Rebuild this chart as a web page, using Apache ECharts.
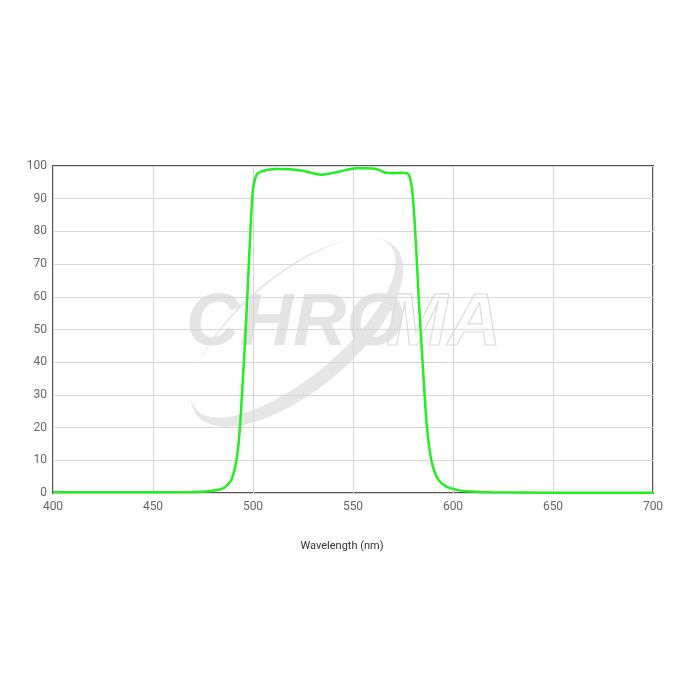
<!DOCTYPE html>
<html>
<head>
<meta charset="utf-8">
<script src="https://cdn.jsdelivr.net/npm/echarts@6/dist/echarts.min.js"></script>
<style>html,body{margin:0;padding:0;background:#fff}#c{width:700px;height:700px}</style>
</head>
<body>
<div id="c"></div>
<script>
// Data
var wavelengths = [400,450,470,478,482,485,487,489,490,491,492,493,494,495,496,497,498,499,499.5,500,501,502,504,507,512,518,524,530,534,539,544,548,552,556,560,563,566,570,575,577,578,579,580,581,582,583,584,585,586,587,588,589,590,591,592,593,595,597,599,603,607,620,650,700];
var transmission = [0.2,0.2,0.3,0.5,0.9,1.4,2.3,3.8,5.5,7.8,11,16.5,25,35.5,46,58,71,84,89,93,96,97.5,98.3,98.8,99.1,99,98.6,97.8,97.3,97.8,98.4,99,99.3,99.3,99.2,98.8,98,97.8,97.9,97.8,97.2,95,90,81,70,58,48,38,28,20,14.5,10.5,8,6.1,4.8,3.8,2.6,1.9,1.4,0.8,0.5,0.2,0.1,0.1];
var xTicks = [400,450,500,550,600,650,700];
var yTicks = [0,10,20,30,40,50,60,70,80,90,100];
var xAxisTitle = 'Wavelength (nm)';

var seriesData = wavelengths.map(function(w,i){return [w, transmission[i]];});

// watermark swoosh (decorative)
function ellipsePts(cx, cy, a, b, rotDeg, reverse) {
  var r = rotDeg*Math.PI/180, pts = [];
  for (var k = 0; k <= 120; k++) {
    var t = (reverse ? -1 : 1) * k/120*2*Math.PI;
    var x = a*Math.cos(t), y = b*Math.sin(t);
    pts.push([cx + x*Math.cos(r) - y*Math.sin(r), cy + x*Math.sin(r) + y*Math.cos(r)]);
  }
  return pts;
}
var ang = -40, rr = ang*Math.PI/180;
var cx = 297, cy = 332;
var sh = 6;
var icx = cx + sh*Math.sin(rr), icy = cy - sh*Math.cos(rr);
var swooshPts = ellipsePts(cx, cy, 130, 58, ang, false).concat(ellipsePts(icx, icy, 127, 50, ang, true));

var chart = echarts.init(document.getElementById('c'), null, {renderer:'canvas'});
chart.setOption({
  animation: false,
  backgroundColor: '#fff',
  grid: {left: 53, right: 47, top: 166, bottom: 207, show: true, borderColor: '#555', borderWidth: 2, backgroundColor: 'transparent'},
  graphic: [
    {type: 'polygon', z: -1, shape: {points: swooshPts}, style: {fill: '#e6e6e6'}},
    {type: 'text', z: -1, style: {text: 'CHRO', x: 186, y: 362, textVerticalAlign: 'bottom', font: 'italic bold 74px "Liberation Sans"', fill: '#e4e4e4'}},
    {type: 'text', z: -1, style: {text: 'MA', x: 386, y: 362, textVerticalAlign: 'bottom', font: 'italic bold 74px "Liberation Sans"', fill: 'rgba(255,255,255,0)', stroke: '#dcdcdc', lineWidth: 1.2}}
  ],
  xAxis: {
    type: 'value', min: 400, max: 700, interval: 50,
    name: xAxisTitle, nameLocation: 'middle', nameGap: 48,
    nameTextStyle: {color: '#333', fontSize: 11, fontFamily: 'Roboto', padding: [0, 22, 0, 0]},
    axisLine: {show: false}, axisTick: {show: false},
    axisLabel: {color: '#666', fontSize: 12, fontFamily: 'Roboto', margin: 8,
      formatter: function(v){ return xTicks.indexOf(v) >= 0 ? String(v) : ''; }},
    splitLine: {show: true, lineStyle: {color: '#d6d6d6', width: 1}}
  },
  yAxis: {
    type: 'value', min: 0, max: 100, interval: 10,
    axisLine: {show: false}, axisTick: {show: false},
    axisLabel: {color: '#666', fontSize: 12, fontFamily: 'Roboto', margin: 6,
      formatter: function(v){ return yTicks.indexOf(v) >= 0 ? String(v) : ''; }},
    splitLine: {show: true, lineStyle: {color: '#d6d6d6', width: 1}}
  },
  series: [{
    type: 'line', data: seriesData, showSymbol: false, smooth: 0.3,
    lineStyle: {color: '#22ee22', width: 2.5}, z: 3
  }]
});
</script>
</body>
</html>
